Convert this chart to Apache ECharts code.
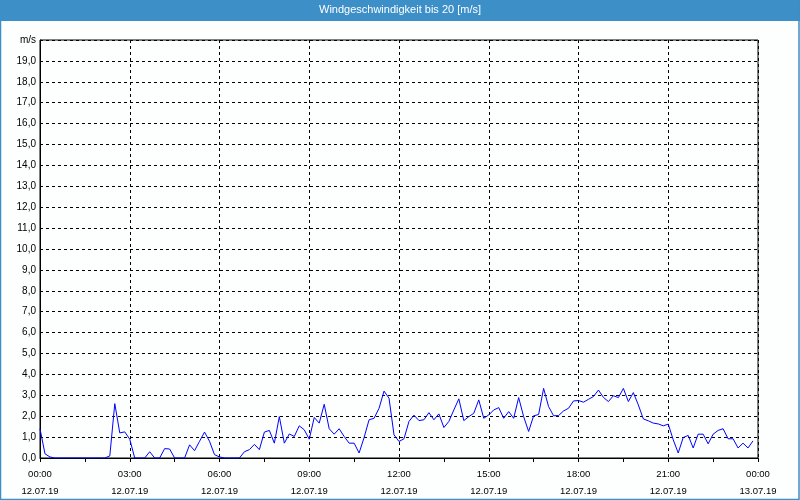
<!DOCTYPE html>
<html>
<head>
<meta charset="utf-8">
<script src="https://cdn.jsdelivr.net/npm/echarts@6/dist/echarts.min.js"></script>
<style>
html,body{margin:0;padding:0;background:#fcfffd;}
#chart{width:800px;height:500px;}
</style>
</head>
<body>
<div id="chart"></div>
<script>
// Wind speed in m/s, one reading every 10 minutes, 12.07.19 00:00 onwards
const stepMinutes = 10;
const speeds = [
  1.4, 0.2, 0.05, 0, 0, 0, 0, 0, 0, 0, 0, 0, 0, 0,
  0.1, 2.6, 1.2, 1.25, 0.9, 0, 0, 0, 0.3, 0, 0, 0.45, 0.43, 0, 0, 0,
  0.63, 0.35, 0.8, 1.24, 0.8, 0.16, 0.05, 0, 0, 0, 0, 0.3, 0.4, 0.65, 0.4,
  1.24, 1.32, 0.71, 1.98, 0.71, 1.15, 1.03, 1.54, 1.35, 0.9, 1.94, 1.67, 2.57,
  1.4, 1.14, 1.4, 1.03, 0.71, 0.71, 0.24, 0.98, 1.83, 1.9, 2.38, 3.2, 2.86,
  1.11, 0.79, 0.92, 1.75, 2.05, 1.79, 1.83, 2.17, 1.83, 2.11, 1.46, 1.75,
  2.3, 2.83, 1.79, 1.98, 2.14, 2.78, 1.9, 2.06, 2.3, 2.41, 1.9, 2.22, 1.9,
  2.89, 1.98, 1.27, 2.02, 2.08, 3.33, 2.46, 2.02, 2.03, 2.25, 2.38, 2.73,
  2.75, 2.67, 2.81, 2.94, 3.25, 2.9, 2.7, 2.98, 2.89, 3.33, 2.7, 3.13, 2.54,
  1.87, 1.78, 1.67, 1.63, 1.54, 1.62, 0.87, 0.24, 0.98, 1.08, 0.48, 1.14,
  1.14, 0.68, 1.14, 1.32, 1.4, 0.92, 0.92, 0.48, 0.71, 0.48, 0.82
];
const dayLabels = ['12.07.19', '13.07.19'];
const titleText = 'Windgeschwindigkeit bis 20 [m/s]';
const yUnit = 'm/s';

// category labels: 00:00 ... 24:00 (145 slots)
const categories = [];
for (let m = 0; m <= 24 * 60; m += stepMinutes) {
  const h = Math.floor(m / 60) % 24, mm = m % 60;
  categories.push((h < 10 ? '0' : '') + h + ':' + (mm < 10 ? '0' : '') + mm);
}

const chart = echarts.init(document.getElementById('chart'));
const blue = '#3d8fc8';
chart.setOption({
  backgroundColor: '#fcfffd',
  animation: false,
  textStyle: { fontFamily: 'Liberation Sans' },
  graphic: [
    { type: 'rect', z: -10, shape: { x: 0, y: 0, width: 800, height: 21 }, style: { fill: blue } },
    { type: 'rect', z: -10, shape: { x: 0.5, y: 0.5, width: 798.5, height: 499 }, style: { fill: 'none', stroke: blue, lineWidth: 1.5 } }
  ],
  title: {
    text: titleText,
    left: 'center',
    top: 4,
    padding: 0,
    textStyle: { color: '#ffffff', fontSize: 11, fontWeight: 'normal', fontFamily: 'Liberation Sans' }
  },
  grid: {
    left: 40, right: 42, top: 40, bottom: 40,
    show: true, borderColor: '#000', borderWidth: 1, backgroundColor: 'transparent'
  },
  xAxis: {
    type: 'category',
    data: categories,
    boundaryGap: false,
    axisLine: { lineStyle: { color: '#000', width: 1 } },
    axisTick: { show: true, interval: 8, length: 4, lineStyle: { color: '#000' } },
    axisLabel: {
      interval: 17,
      color: '#000',
      fontSize: 9.5,
      lineHeight: 17,
      margin: 8,
      formatter: function (v, i) {
        return v + '\n' + (i >= categories.length - 1 ? dayLabels[1] : dayLabels[0]);
      }
    },
    splitLine: { show: true, interval: 17, lineStyle: { color: '#000', type: [3, 3], width: 1 } }
  },
  yAxis: {
    type: 'value',
    min: 0, max: 20, interval: 1,
    axisLine: { show: true, lineStyle: { color: '#000', width: 1 } },
    axisTick: { show: false },
    axisLabel: {
      color: '#000',
      fontSize: 10,
      margin: 4,
      formatter: function (v) {
        return v === 20 ? yUnit : v.toFixed(1).replace('.', ',');
      }
    },
    splitLine: { show: true, lineStyle: { color: '#000', type: [3, 3], width: 1 } }
  },
  series: [{
    type: 'line',
    data: speeds,
    showSymbol: false,
    smooth: false,
    lineStyle: { color: '#0000ff', width: 1 },
    itemStyle: { color: '#0000ff' }
  }]
});
</script>
</body>
</html>
